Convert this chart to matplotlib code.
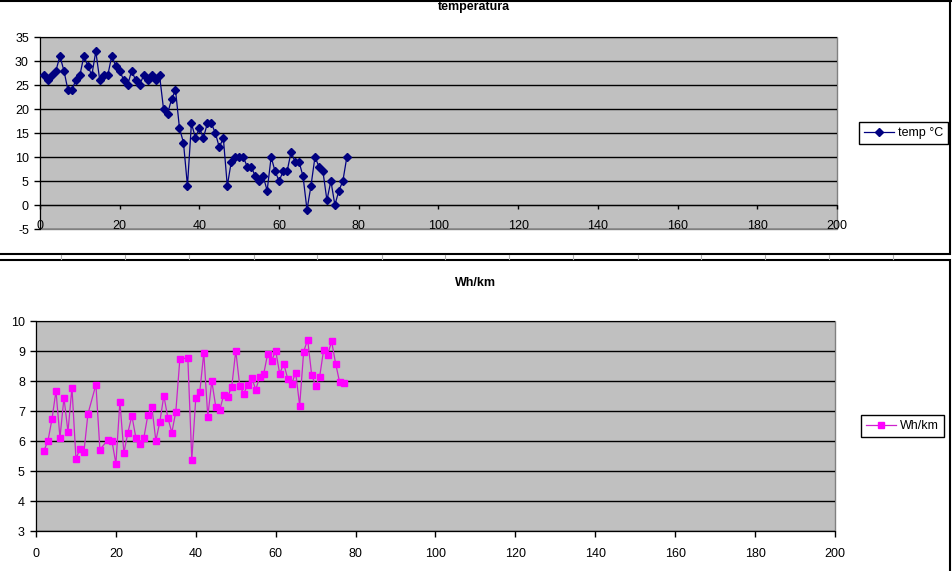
import matplotlib
matplotlib.use("Agg")
import matplotlib.pyplot as plt
from matplotlib.lines import Line2D
from matplotlib.patches import Rectangle
import numpy as np

plt.rcParams['font.family'] = ['Liberation Sans', 'DejaVu Sans']
plt.rcParams['font.size'] = 9
plt.rcParams['axes.unicode_minus'] = False

# temperature per trip (x = 1..77)
temp_x = list(range(1, 78))
temp_c = [27, 26, 27, 28, 31, 28, 24, 24, 26, 27,
          31, 29, 27, 32, 26, 27, 27, 31, 29, 28,
          26, 25, 28, 26, 25, 27, 26, 27, 26, 27,
          20, 19, 22, 24, 16, 13, 4, 17, 14, 16,
          14, 17, 17, 15, 12, 14, 4, 9, 10, 10,
          10, 8, 8, 6, 5, 6, 3, 10, 7, 5,
          7, 7, 11, 9, 9, 6, -1, 4, 10, 8,
          7, 1, 5, 0, 3, 5, 10]

# consumption, some trips missing
wh_x = [2, 3, 4, 5, 6, 7, 8, 9, 10, 11, 12, 13, 15, 16,
        18, 19, 20, 21, 22, 23, 24, 25, 26, 27, 28, 29, 30,
        31, 32, 33, 34, 35, 36, 38, 39, 40, 41, 42, 43, 44, 45,
        46, 47, 48, 49, 50, 51, 52, 53, 54, 55, 56, 57, 58, 59,
        60, 61, 62, 63, 64, 65, 66, 67, 68, 69, 70, 71, 72, 73,
        74, 75, 76, 77]
wh_km = [5.68, 6.01, 6.73, 7.67, 6.11, 7.44, 6.31, 7.78, 5.41, 5.73, 5.64, 6.90, 7.88, 5.71,
         6.04, 6.01, 5.24, 7.31, 5.61, 6.28, 6.84, 6.11, 5.91, 6.11, 6.87, 7.14, 6.01,
         6.64, 7.51, 6.78, 6.28, 6.98, 8.72, 8.78, 5.38, 7.44, 7.64, 8.94, 6.81, 8.00, 7.14,
         7.04, 7.54, 7.48, 7.81, 9.01, 7.84, 7.58, 7.88, 8.11, 7.71, 8.14, 8.24, 8.91, 8.68,
         9.01, 8.24, 8.58, 8.08, 7.91, 8.28, 7.18, 8.98, 9.38, 8.21, 7.84, 8.14, 9.04, 8.88,
         9.32, 8.58, 7.96, 7.93]

W, H = 953, 571
fig = plt.figure(figsize=(W / 100, H / 100), dpi=100)
fig.patch.set_facecolor('white')


def fx(px):
    return px / W


def fy(py):
    return 1 - py / H


def excel_axes(ax):
    ax.set_facecolor('#C0C0C0')
    ax.patch.set_edgecolor('#808080')
    ax.patch.set_linewidth(1)
    ax.spines['top'].set_visible(False)
    ax.spines['right'].set_visible(False)
    ax.spines['left'].set_color('black')
    ax.spines['bottom'].set_color('black')
    ax.grid(axis='y', color='black', linewidth=1)
    ax.set_axisbelow(True)
    ax.tick_params(axis='y', direction='out', length=4, width=1, pad=4)


# chart frames (spreadsheet screenshot look)
fig.add_artist(Rectangle((fx(-2), fy(254)), fx(952), 0.6, transform=fig.transFigure,
                         fill=False, edgecolor='black', linewidth=1.5, clip_on=False))
fig.add_artist(Rectangle((fx(-2), fy(260) - 0.6), fx(952), 0.6, transform=fig.transFigure,
                         fill=False, edgecolor='black', linewidth=1.5, clip_on=False))
for cx in np.arange(61.5, 950, 64):
    fig.add_artist(Line2D([fx(cx), fx(cx)], [fy(255), fy(259)], transform=fig.transFigure,
                          color='#B0B0B0', linewidth=0.8))

# top chart: temperature
ax1 = fig.add_axes([fx(40), fy(229), fx(797), 192 / H])
excel_axes(ax1)
ax1.plot(temp_x, temp_c, color='#000080', linewidth=0.9, marker='D', markersize=4.5,
         markerfacecolor='#000080', markeredgecolor='#000080', label='temp °C', zorder=3)
ax1.set_xlim(0, 200)
ax1.set_ylim(-5, 35)
ax1.set_xticks(np.arange(0, 201, 20))
ax1.set_yticks(np.arange(-5, 36, 5))
ax1.spines['bottom'].set_position(('data', 0))
ax1.tick_params(axis='x', direction='out', length=3, width=1, pad=8)
ax1.legend(loc='center left', bbox_to_anchor=(fx(859), fy(133)), bbox_transform=fig.transFigure,
           borderaxespad=0, frameon=True, fancybox=False, framealpha=1, edgecolor='black',
           handlelength=2.4, borderpad=0.4, handletextpad=0.3, fontsize=9)
fig.text(fx(474), fy(10), 'temperatura', ha='center', va='baseline',
         fontsize=9, fontweight='bold')
fig.add_artist(Line2D([0, 1], [fy(0.5), fy(0.5)], transform=fig.transFigure,
                      color='black', linewidth=1.5))

# bottom chart: Wh/km
ax2 = fig.add_axes([fx(36), fy(531), fx(799), 210 / H])
excel_axes(ax2)
ax2.plot(wh_x, wh_km, color='#CC22CC', linewidth=0.9, marker='s', markersize=4.8,
         markerfacecolor='#FF00FF', markeredgecolor='#FF00FF', label='Wh/km', zorder=3)
ax2.set_xlim(0, 200)
ax2.set_ylim(3, 10)
ax2.set_xticks(np.arange(0, 201, 20))
ax2.set_yticks(np.arange(3, 11, 1))
ax2.tick_params(axis='x', direction='out', length=4, width=1, pad=8)
ax2.legend(loc='center left', bbox_to_anchor=(fx(861), fy(426)), bbox_transform=fig.transFigure,
           borderaxespad=0, frameon=True, fancybox=False, framealpha=1, edgecolor='black',
           handlelength=2.4, borderpad=0.4, handletextpad=0.3, fontsize=9)
fig.text(fx(475), fy(283), 'Wh/km', ha='center', va='center', fontsize=9, fontweight='bold')

fig.savefig('out.png', dpi=100)
